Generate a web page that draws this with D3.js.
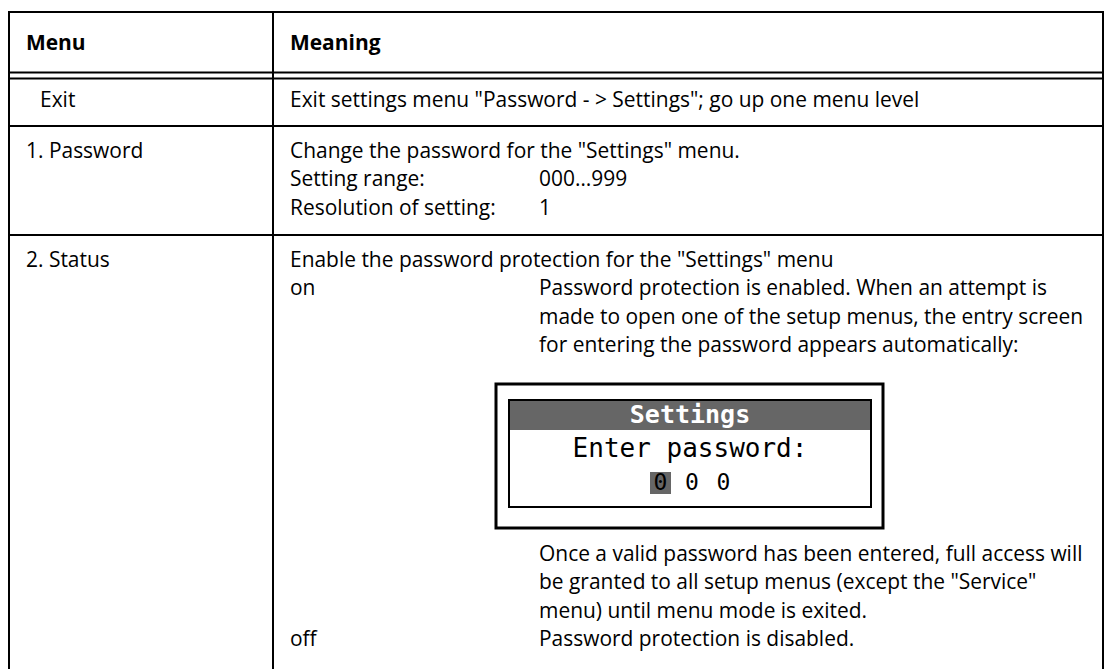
<!DOCTYPE html>
<html><head><meta charset="utf-8">
<script src="https://cdn.jsdelivr.net/npm/d3@7/dist/d3.min.js"></script>
<style>
html,body{margin:0;padding:0;background:#fff;}
svg{display:block;}
</style></head>
<body>
<svg id="chart" width="1105" height="669"></svg>
<script>
// ---- data ----
const headers = ["Menu", "Meaning"];
const menuItems = ["Exit", "1. Password", "2. Status"];
const exitText = ["Exit settings menu \"Password - > Settings\"; go up one menu level"];
const passwordLabels = ["Change the password for the \"Settings\" menu.", "Setting range:", "Resolution of setting:"];
const passwordValues = ["", "000\u2026999", "1"];
const statusIntro = "Enable the password protection for the \"Settings\" menu";
const statusOptions = ["on", "off"];
const onText = ["Password protection is enabled. When an attempt is",
  "made to open one of the setup menus, the entry screen",
  "for entering the password appears automatically:"];
const onTextAfter = ["Once a valid password has been entered, full access will",
  "be granted to all setup menus (except the \"Service\"",
  "menu) until menu mode is exited."];
const offText = ["Password protection is disabled."];
const screenTitle = "Settings";
const screenPrompt = "Enter password:";
const screenDigits = ["0", "0", "0"];

// ---- layout ----
const svg = d3.select("#chart");
const W = 1105, H = 669;
const bodyFont = "'Open Sans', 'Noto Sans', sans-serif";
const monoFont = "'DejaVu Sans Mono', monospace";

function measure(txt, size, weight, fam) {
  const t = svg.append("text").attr("font-family", fam).attr("font-size", size)
    .attr("font-weight", weight).text(txt);
  const w = t.node().getComputedTextLength();
  t.remove();
  return w;
}
const bodySize = 100 * 544 / measure(onTextAfter[0], 100, 400, bodyFont);
const headSize = bodySize;

const x = d3.scaleLinear().domain([0, 1]).range([9, 1103]);
const colDiv = 273;
const col1X = 26, col2X = 290, tabX = 539;

// vertical line scale: line index -> baseline offset
const lineStep = 28.5;
const yLine = d3.scaleLinear().domain([0, 1]).range([0, lineStep]);

const rowLines = [126, 235];
const g = svg.append("g");

const stroke = "#000";
g.selectAll("line.h").data([12, 72.5, 78.5]).join("line").attr("class", "h")
  .attr("x1", x(0)).attr("x2", x(1)).attr("y1", d => d).attr("y2", d => d)
  .attr("stroke", stroke).attr("stroke-width", 2);
g.selectAll("line.row").data(rowLines).join("line").attr("class", "row")
  .attr("x1", x(0)).attr("x2", x(1)).attr("y1", d => d).attr("y2", d => d)
  .attr("stroke", stroke).attr("stroke-width", 2);
g.selectAll("line.col").data([x(0), colDiv, x(1)]).join("line").attr("class", "col")
  .attr("x1", d => d).attr("x2", d => d).attr("y1", 11).attr("y2", H)
  .attr("stroke", stroke).attr("stroke-width", 2);

function txt(s, xx, yy, opts = {}) {
  return g.append("text").attr("x", xx).attr("y", yy)
    .attr("font-family", opts.fam || bodyFont)
    .attr("font-size", opts.size || bodySize)
    .attr("font-weight", opts.weight || 400)
    .attr("fill", opts.fill || "#000")
    .attr("text-anchor", opts.anchor || "start")
    .text(s);
}

// header
txt(headers[0], col1X, 50, {weight: 700, size: headSize});
txt(headers[1], col2X, 50, {weight: 700, size: headSize});

// Exit row
txt(menuItems[0], 40, 107);
exitText.forEach((s, i) => txt(s, col2X, 107 + yLine(i)));

// Password row
const pwBase = 157.5;
txt(menuItems[1], col1X, pwBase);
passwordLabels.forEach((s, i) => txt(s, col2X, pwBase + yLine(i)));
passwordValues.forEach((s, i) => { if (s) txt(s, tabX, pwBase + yLine(i)); });

// Status row
const stBase = 266.5;
txt(menuItems[2], col1X, stBase);
txt(statusIntro, col2X, stBase);
txt(statusOptions[0], col2X, stBase + yLine(1));
onText.forEach((s, i) => txt(s, tabX, stBase + yLine(1 + i)));

// LCD screen
const cx = 690;
g.append("rect").attr("x", 496).attr("y", 384).attr("width", 883 - 496).attr("height", 528 - 384)
  .attr("fill", "#fff").attr("stroke", "#000").attr("stroke-width", 3);
g.append("rect").attr("x", 509).attr("y", 400).attr("width", 871 - 509).attr("height", 30)
  .attr("fill", "#666");
g.append("rect").attr("x", 509).attr("y", 400).attr("width", 871 - 509).attr("height", 507 - 400)
  .attr("fill", "none").attr("stroke", "#000").attr("stroke-width", 2);
txt(screenTitle, cx, 423, {fam: monoFont, size: 25, weight: 700, fill: "#fff", anchor: "middle"});
txt(screenPrompt, cx, 457, {fam: monoFont, size: 26, anchor: "middle"});
const digitStep = 31.5;
const dx = d3.scalePoint().domain(d3.range(screenDigits.length))
  .range([660.5, 660.5 + digitStep * (screenDigits.length - 1)]);
g.append("rect").attr("x", 650).attr("y", 472).attr("width", 21).attr("height", 22).attr("fill", "#666");
screenDigits.forEach((d, i) => txt(d, dx(i), 490, {fam: monoFont, size: 23, anchor: "middle"}));

const afterBase = 560.5;
onTextAfter.forEach((s, i) => txt(s, tabX, afterBase + yLine(i)));
txt(statusOptions[1], col2X, afterBase + yLine(3));
offText.forEach((s, i) => txt(s, tabX, afterBase + yLine(3 + i)));
</script>
</body></html>
